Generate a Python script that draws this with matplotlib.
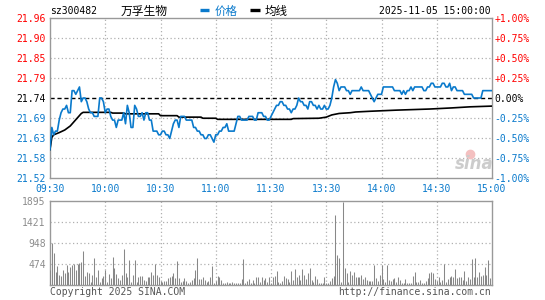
import matplotlib
matplotlib.use("Agg")
import matplotlib.pyplot as plt
from matplotlib.lines import Line2D

# ---------------- data ----------------
code = "sz300482"
name = "万孚生物"
stamp = "2025-11-05 15:00:00"
prev_close = 21.74

price = [
    21.60, 21.66, 21.64, 21.65, 21.65, 21.68, 21.70, 21.71, 21.71, 21.72,
    21.70, 21.70, 21.76, 21.76, 21.75, 21.76, 21.77, 21.73, 21.74, 21.74,
    21.73, 21.71, 21.70, 21.70, 21.69, 21.69, 21.69, 21.74, 21.74, 21.73,
    21.70, 21.71, 21.71, 21.69, 21.68, 21.68, 21.66, 21.68, 21.68, 21.68,
    21.70, 21.67, 21.72, 21.70, 21.66, 21.66, 21.72, 21.71, 21.69, 21.69,
    21.70, 21.68, 21.70, 21.70, 21.68, 21.68, 21.65, 21.65, 21.65, 21.64,
    21.64, 21.65, 21.65, 21.64, 21.64, 21.63, 21.65, 21.67, 21.68, 21.68,
    21.66, 21.69, 21.69, 21.69, 21.68, 21.68, 21.68, 21.68, 21.66, 21.66,
    21.65, 21.65, 21.64, 21.64, 21.63, 21.63, 21.64, 21.64, 21.63, 21.62,
    21.64, 21.64, 21.65, 21.65, 21.66, 21.66, 21.67, 21.65, 21.65, 21.65,
    21.65, 21.67, 21.69, 21.69, 21.68, 21.68, 21.68, 21.68, 21.69, 21.69,
    21.69, 21.68, 21.68, 21.70, 21.70, 21.70, 21.69, 21.69, 21.68, 21.68,
    21.69, 21.70, 21.71, 21.72, 21.72, 21.73, 21.73, 21.72, 21.72, 21.71,
    21.71, 21.70, 21.71, 21.71, 21.72, 21.74, 21.73, 21.73, 21.72, 21.72,
    21.71, 21.73, 21.73, 21.72, 21.72, 21.71, 21.72, 21.71, 21.71, 21.72,
    21.71, 21.71, 21.72, 21.74, 21.77, 21.79, 21.78, 21.76, 21.77, 21.77,
    21.77, 21.76, 21.76, 21.75, 21.76, 21.76, 21.76, 21.76, 21.76, 21.77,
    21.76, 21.76, 21.76, 21.76, 21.75, 21.74, 21.73, 21.74, 21.75, 21.75,
    21.75, 21.77, 21.77, 21.77, 21.77, 21.77, 21.77, 21.76, 21.76, 21.76,
    21.76, 21.75, 21.76, 21.75, 21.76, 21.76, 21.77, 21.76, 21.77, 21.77,
    21.77, 21.77, 21.77, 21.76, 21.76, 21.77, 21.77, 21.78, 21.78, 21.77,
    21.77, 21.77, 21.77, 21.78, 21.78, 21.77, 21.77, 21.78, 21.76, 21.77,
    21.77, 21.76, 21.76, 21.76, 21.76, 21.75, 21.75, 21.75, 21.75, 21.75,
    21.74, 21.74, 21.74, 21.74, 21.74, 21.76, 21.76, 21.76, 21.76, 21.76,
    21.76,
]

avg_minutes = [0, 1, 2, 5, 8, 11, 14, 17, 18, 33, 34, 40, 41, 59, 60, 69, 70,
               82, 83, 90, 91, 131, 132, 146, 150, 153, 157, 163, 166, 174,
               188, 206, 218, 228, 240]
avg_values = [21.600, 21.633, 21.640, 21.646, 21.653, 21.664, 21.681, 21.698,
              21.701, 21.701, 21.699, 21.699, 21.697, 21.697, 21.692, 21.692,
              21.688, 21.688, 21.685, 21.685, 21.682, 21.682, 21.684, 21.685,
              21.688, 21.694, 21.698, 21.700, 21.702, 21.704, 21.707, 21.710,
              21.713, 21.716, 21.718]

volume = [
    338, 955, 729, 301, 429, 226, 203, 338, 263, 451,
    301, 414, 451, 474, 338, 474, 504, 526, 767, 203,
    301, 278, 75, 226, 602, 173, 338, 75, 150, 203,
    338, 75, 241, 150, 639, 376, 252, 150, 113, 226,
    812, 263, 173, 564, 75, 226, 564, 75, 173, 203,
    203, 113, 98, 173, 173, 301, 226, 474, 226, 173,
    98, 75, 98, 98, 150, 173, 203, 278, 150, 549,
    150, 75, 98, 150, 98, 53, 75, 113, 150, 338,
    602, 128, 128, 173, 113, 75, 98, 173, 429, 53,
    98, 203, 173, 113, 53, 53, 75, 53, 53, 75,
    53, 53, 53, 53, 128, 579, 53, 98, 128, 53,
    113, 53, 173, 173, 75, 173, 113, 150, 75, 173,
    38, 173, 203, 316, 75, 53, 98, 203, 150, 128,
    75, 316, 113, 361, 173, 226, 113, 361, 226, 128,
    278, 376, 113, 75, 203, 128, 38, 53, 53, 173,
    38, 53, 98, 150, 203, 1579, 677, 602, 75, 1880,
    376, 263, 75, 316, 226, 301, 173, 173, 173, 226,
    128, 188, 113, 98, 98, 98, 451, 150, 98, 226,
    451, 128, 75, 451, 113, 98, 128, 150, 75, 173,
    113, 53, 53, 128, 53, 53, 53, 203, 301, 75,
    75, 113, 53, 53, 98, 150, 263, 301, 263, 128,
    98, 173, 75, 113, 474, 75, 128, 188, 203, 173,
    361, 150, 173, 188, 113, 316, 98, 173, 128, 579,
    173, 602, 188, 301, 203, 226, 414, 226, 564, 150,
    300,
]

minutes = list(range(len(price)))
time_ticks = [0, 30, 60, 90, 120, 150, 180, 210, 240]
time_labels = ["09:30", "10:00", "10:30", "11:00", "11:30",
               "13:30", "14:00", "14:30", "15:00"]
price_ticks = [prev_close * (1 + k * 0.0025) for k in range(-4, 5)]
price_labels = ["21.52", "21.58", "21.63", "21.69", "21.74",
                "21.79", "21.85", "21.90", "21.96"]
pct_labels = ["-1.00%", "-0.75%", "-0.50%", "-0.25%", "0.00%",
              "+0.25%", "+0.50%", "+0.75%", "+1.00%"]
vol_ticks = [474, 948, 1421, 1895]
vol_labels = ["474", "948", "1421", "1895"]

# ---------------- style ----------------
W, H = 545, 300
BLUE = "#0a7acc"
RED = "#ff0000"
FRAME = "#999999"
GRID = "#b0b0b0"
MONO = "DejaVu Sans Mono"
CJK = ["Noto Sans CJK SC", "DejaVu Sans"]
FS = 7

fig = plt.figure(figsize=(W / 100, H / 100), dpi=100)
fig.patch.set_facecolor("white")


def fx(x):
    return x / W


def fy(y):
    return 1 - y / H


L, R = 50, 492
ax = fig.add_axes([fx(L), fy(178), (R - L) / W, (178 - 18) / H])
axv = fig.add_axes([fx(L), fy(285), (R - L) / W, (285 - 201) / H])

for a in (ax, axv):
    for s in a.spines.values():
        s.set_color(FRAME)
        s.set_linewidth(1.0)
    a.set_xlim(0, 240)
    a.set_facecolor("white")

# price panel
lo, hi = price_ticks[0], price_ticks[-1]
ax.set_ylim(lo, hi)
for t in time_ticks[1:-1]:
    ax.axvline(t, color=GRID, lw=0.9, ls=(0, (1, 2)), zorder=1)
    axv.axvline(t, color=GRID, lw=0.9, ls=(0, (1, 2)), zorder=1)
for i, v in enumerate(price_ticks[1:-1], start=1):
    if i == 4:
        ax.axhline(v, color="black", lw=1.0, ls=(0, (3, 2)), zorder=2)
    else:
        ax.axhline(v, color=GRID, lw=0.9, ls=(0, (1, 2)), zorder=1)

ax.plot(avg_minutes, avg_values, color="black", lw=1.2, zorder=3)
ax.plot(minutes, price, color=BLUE, lw=1.2, zorder=4)

def col(i):
    return BLUE if i < 4 else ("black" if i == 4 else RED)

ax.set_yticks(price_ticks)
ax.set_yticklabels(price_labels, fontsize=FS, family=MONO)
for i, lab in enumerate(ax.get_yticklabels()):
    lab.set_color(col(i))
ax.tick_params(axis="y", length=0, pad=3)

ax2 = ax.twinx()
ax2.set_ylim(lo, hi)
ax2.set_yticks(price_ticks)
ax2.set_yticklabels(pct_labels, fontsize=FS, family=MONO)
for i, lab in enumerate(ax2.get_yticklabels()):
    lab.set_color(col(i))
ax2.tick_params(axis="y", length=0, pad=2)
for s in ax2.spines.values():
    s.set_visible(False)

ax.set_xticks(time_ticks)
ax.set_xticklabels(time_labels, fontsize=FS, family=MONO, color=BLUE)
ax.tick_params(axis="x", length=0, pad=4)

# sina watermark
fig.text(fx(474), fy(164), "sina", fontsize=12, style="italic", weight="bold",
         color="#cccccc", ha="center", va="center", family="DejaVu Sans")
fig.add_artist(Line2D([fx(470)], [fy(154)], marker="o", ms=6,
                      color="#f4c0c0", transform=fig.transFigure))

# volume panel
axv.set_ylim(0, 1895)
for v in vol_ticks[:-1]:
    axv.axhline(v, color=GRID, lw=0.9, ls=(0, (1, 2)), zorder=1)
axv.vlines(minutes, 0, volume, color="#888888", lw=0.75, zorder=3)
axv.set_yticks(vol_ticks)
axv.set_yticklabels(vol_labels, fontsize=FS, family=MONO, color="#8c8c8c")
axv.tick_params(axis="y", length=0, pad=3)
axv.set_xticks([])

# header
fig.text(fx(50), fy(11), code, fontsize=FS, family=MONO, color="black",
         ha="left", va="center")
fig.text(fx(121), fy(11), name, fontsize=8.5, family=CJK, color="black",
         ha="left", va="center")
fig.add_artist(Line2D([fx(200), fx(209)], [fy(10), fy(10)], lw=2.4,
                      color=BLUE, transform=fig.transFigure, solid_capstyle="butt"))
fig.text(fx(215), fy(11), "价格", fontsize=8.3, family=CJK, color=BLUE,
         ha="left", va="center")
fig.add_artist(Line2D([fx(250), fx(260)], [fy(10), fy(10)], lw=2.4,
                      color="black", transform=fig.transFigure, solid_capstyle="butt"))
fig.text(fx(265), fy(11), "均线", fontsize=8.3, family=CJK, color="black",
         ha="left", va="center")
fig.text(fx(491), fy(11), stamp, fontsize=FS, family=MONO, color="black",
         ha="right", va="center")

# footer
fig.text(fx(50), fy(292), "Copyright 2025 SINA.COM", fontsize=FS, family=MONO,
         color="#555555", ha="left", va="center")
fig.text(fx(491), fy(292), "http://finance.sina.com.cn", fontsize=FS,
         family=MONO, color="#555555", ha="right", va="center")

fig.savefig("out.png", dpi=100, facecolor="white")
